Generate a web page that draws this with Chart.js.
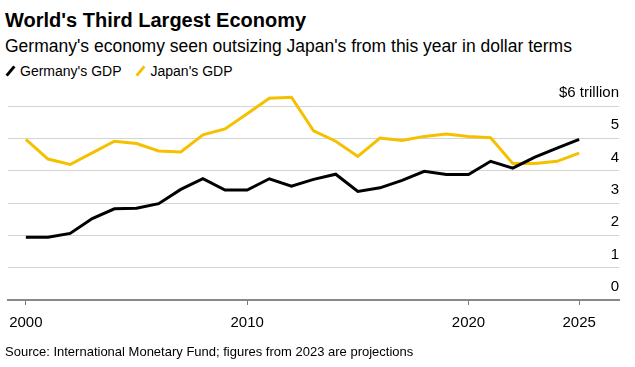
<!DOCTYPE html>
<html>
<head>
<meta charset="utf-8">
<script src="https://cdn.jsdelivr.net/npm/chart.js@4"></script>
<style>
  html, body { margin: 0; padding: 0; background: #fff; }
  body { width: 635px; height: 367px; position: relative; overflow: hidden; font-family: "Liberation Sans", Arial, sans-serif; color: #000; }
  .t { position: absolute; left: 5px; white-space: nowrap; }
  #title { top: 10px; font-size: 20px; line-height: 20px; font-weight: bold; }
  #subtitle { top: 38px; font-size: 17.5px; line-height: 17.5px; }
  #legend { top: 64px; font-size: 14px; line-height: 14px; }
  #legend .item { display: inline-block; margin-right: 14px; }
  #legend .sw { display: inline-block; width: 3px; height: 12px; transform: rotate(40deg); margin: 0 8px -1px 4px; vertical-align: 0; }
  #source { top: 345px; font-size: 13px; line-height: 13px; }
  #wrap { position: absolute; left: 0; top: 80px; width: 635px; height: 265px; }
</style>
</head>
<body>
<div class="t" id="title">World's Third Largest Economy</div>
<div class="t" id="subtitle">Germany's economy seen outsizing Japan's from this year in dollar terms</div>
<div class="t" id="legend"></div>
<div id="wrap"><canvas id="chart"></canvas></div>
<div class="t" id="source">Source: International Monetary Fund; figures from 2023 are projections</div>
<script>
// values in $ trillion
const years = [2000, 2001, 2002, 2003, 2004, 2005, 2006, 2007, 2008, 2009, 2010, 2011, 2012,
  2013, 2014, 2015, 2016, 2017, 2018, 2019, 2020, 2021, 2022, 2023, 2024, 2025];
const germany = [1.94, 1.94, 2.06, 2.52, 2.82, 2.84, 2.98, 3.42, 3.75, 3.40, 3.40, 3.75, 3.52,
  3.73, 3.89, 3.36, 3.47, 3.70, 3.98, 3.88, 3.88, 4.29, 4.08, 4.42, 4.70, 4.97];
const japan = [4.97, 4.36, 4.19, 4.55, 4.91, 4.84, 4.61, 4.58, 5.11, 5.29, 5.76, 6.24, 6.27,
  5.23, 4.91, 4.44, 5.01, 4.93, 5.06, 5.13, 5.06, 5.02, 4.22, 4.22, 4.29, 4.54];
const xTicks = [2000, 2010, 2020, 2025];
const yTicks = [0, 1, 2, 3, 4, 5, 6];
const seriesNames = ["Germany's GDP", "Japan's GDP"];
const seriesColors = ['#000000', '#F5C000'];

function el(sel) { return document.querySelector(sel); }
function pts(vals) { return years.map((y, i) => ({ x: y, y: vals[i] })); }

el('#legend').innerHTML = seriesNames.map((n, i) =>
  `<span class="item"><span class="sw" style="background:${seriesColors[i]}"></span>${n}</span>`).join('');

const font = { family: '"Liberation Sans", Arial, sans-serif', size: 15 };

new Chart(el('#chart').getContext('2d'), {
  type: 'line',
  data: {
    datasets: [
      { label: seriesNames[0], data: pts(germany), borderColor: seriesColors[0], borderWidth: 3, pointRadius: 0, tension: 0, clip: false, order: 1 },
      { label: seriesNames[1], data: pts(japan), borderColor: seriesColors[1], borderWidth: 3, pointRadius: 0, tension: 0, clip: false, order: 2 },
    ],
  },
  options: {
    responsive: true,
    maintainAspectRatio: false,
    animation: false,
    layout: { padding: { left: 6, right: 16, top: 26, bottom: 4 } },
    plugins: { legend: { display: false }, tooltip: { enabled: false } },
    scales: {
      x: {
        type: 'linear',
        min: 1999.19,
        max: 2026.8,
        afterBuildTicks: ax => { ax.ticks = xTicks.map(v => ({ value: v })); },
        ticks: { font, color: '#000', padding: 9, callback: v => String(v), maxRotation: 0 },
        grid: { drawOnChartArea: false, drawTicks: true, tickLength: 5, color: '#777', tickWidth: 1 },
        border: { display: true, color: '#888', width: 2 },
      },
      y: {
        position: 'right',
        min: 0,
        max: 6,
        afterBuildTicks: ax => { ax.ticks = yTicks.map(v => ({ value: v })); },
        ticks: {
          font, color: '#000', mirror: true, padding: 0, labelOffset: -13,
          callback: v => (v === 6 ? '$6 trillion' : String(v)),
        },
        grid: { color: '#d4d4d4', lineWidth: 1, drawTicks: false },
        border: { display: false },
      },
    },
  },
});
</script>
</body>
</html>
